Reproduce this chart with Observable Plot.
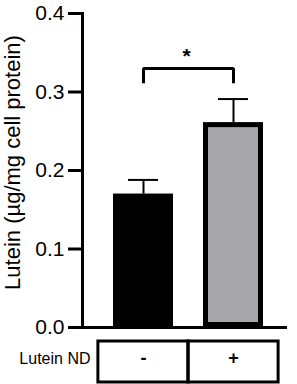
<!DOCTYPE html>
<html><head><meta charset="utf-8">
<script src="https://cdn.jsdelivr.net/npm/d3@7"></script>
<script src="https://cdn.jsdelivr.net/npm/@observablehq/plot@0.6"></script>
<style>
body{margin:0;background:#fff;font-family:"Liberation Sans",Arial,sans-serif}
svg{display:block}
</style>
</head><body><div id="chart"></div>
<script>
const groups = ["-", "+"];
const means = [0.17, 0.261];
const errors = [0.018, 0.03];
const barFills = ["#000000", "#a6a6ab"];
const yTicks = [0, 0.1, 0.2, 0.3, 0.4];
const yLabel = "Lutein (µg/mg cell protein)";
const rowLabel = "Lutein ND";
const significance = "*";
const bracketLevels = [0.311, 0.33];
const starLevel = [0.345];

const data = groups.map((g, i) => ({group: g, mean: means[i], top: means[i] + errors[i], fill: barFills[i]}));
const bracket = [
  {group: groups[0], y: bracketLevels[0]},
  {group: groups[0], y: bracketLevels[1]},
  {group: groups[1], y: bracketLevels[1]},
  {group: groups[1], y: bracketLevels[0]}
];

const chart = Plot.plot({
  width: 297,
  height: 384,
  marginLeft: 82,
  marginRight: 3,
  marginTop: 13,
  marginBottom: 57,
  style: {fontFamily: "'Liberation Sans', Arial, sans-serif", color: "#000", background: "#fff"},
  x: {type: "band", domain: groups, paddingInner: 1/3, paddingOuter: 1/3, axis: null},
  y: {domain: [0, 0.4], axis: null},
  marks: [
    Plot.barY(data, {x: "group", y: "mean", fill: "fill", stroke: "#000", strokeWidth: 5, inset: 2.5}),
    Plot.ruleX(data, {x: "group", y1: "mean", y2: "top", stroke: "#000", strokeWidth: 2}),
    Plot.tickY(data, {x: "group", y: "top", stroke: "#000", strokeWidth: 2, insetLeft: 15, insetRight: 15}),
    Plot.line(bracket, {x: "group", y: "y", stroke: "#000", strokeWidth: 3, strokeLinejoin: "miter", strokeLinecap: "butt"}),
    Plot.text(starLevel, {x: () => groups[0], y: d => d, text: () => significance, dx: 43, fontSize: 21, fontWeight: "bold", fill: "#000"}),
    Plot.axisY({ticks: yTicks, tickFormat: d3.format(".1f"), tickSize: 14, tickPadding: 4, strokeWidth: 3, fontSize: 21, label: null, fill: "#000"}),
    Plot.frame({anchor: "left", stroke: "#000", strokeWidth: 3}),
    Plot.ruleY([0], {stroke: "#000", strokeWidth: 3, insetLeft: -14, insetRight: 7}),
    Plot.text([yLabel], {frameAnchor: "left", textAnchor: "middle", rotate: -90, dx: -70, dy: -8, fontSize: 22, fill: "#000"}),
    Plot.cell(groups, {x: d => d, fill: "none", stroke: "#000", strokeWidth: 3, insetTop: 328, insetBottom: -55, insetLeft: -15.1, insetRight: -15.1}),
    Plot.text(groups, {x: d => d, frameAnchor: "bottom", dy: 36, fontSize: 18, fontWeight: "bold", fill: "#000"}),
    Plot.text([rowLabel], {frameAnchor: "bottom-left", textAnchor: "end", dx: 8, dy: 36, fontSize: 16, fill: "#000"})
  ]
});
document.getElementById("chart").append(chart);
</script>
</body></html>
